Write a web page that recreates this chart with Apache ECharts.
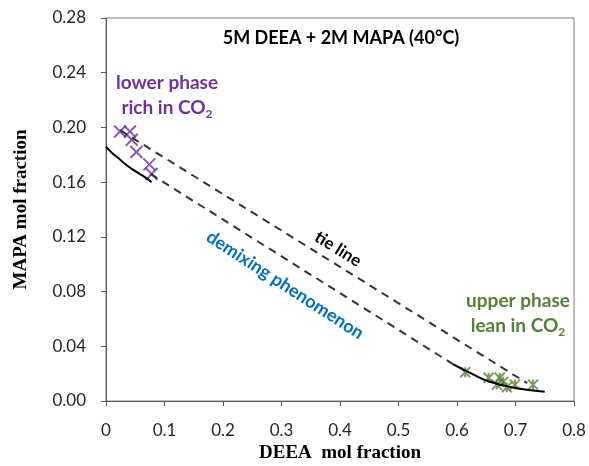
<!DOCTYPE html>
<html>
<head>
<meta charset="utf-8">
<script src="https://cdn.jsdelivr.net/npm/echarts@6/dist/echarts.min.js"></script>
<style>
  html, body { margin: 0; padding: 0; background: #fff; }
  #chart { width: 589px; height: 466px; }
</style>
</head>
<body>
<div id="chart"></div>
<script>
// --- data ---
const lowerPhase = [[0.024, 0.197], [0.041, 0.197], [0.044, 0.191], [0.052, 0.182], [0.074, 0.173], [0.078, 0.166]];
const upperPhase = [[0.614, 0.021], [0.654, 0.017], [0.668, 0.012], [0.673, 0.017], [0.679, 0.014], [0.685, 0.010], [0.699, 0.012], [0.730, 0.012]];
const leftCurve = [[0, 0.186], [0.01, 0.1815], [0.02, 0.178], [0.035, 0.1725], [0.05, 0.168], [0.065, 0.164], [0.078, 0.160]];
const rightCurve = [[0.593, 0.027], [0.625, 0.020], [0.656, 0.0141], [0.702, 0.0093], [0.75, 0.0068]];
const tieUpper = [[0.024, 0.198], [0.72, 0.013]];
const tieLower = [[0.076, 0.166], [0.593, 0.027]];
const xTicks = [0, 0.1, 0.2, 0.3, 0.4, 0.5, 0.6, 0.7, 0.8];
const yTicks = [0, 0.04, 0.08, 0.12, 0.16, 0.20, 0.24, 0.28];

const FONT = 'Lato, "Open Sans", sans-serif';
const PURPLE = '#7030a0';
const GREEN = '#548235';
const BLUE = '#0070c0';

const chart = echarts.init(document.getElementById('chart'));

// rich text for "CO2" with a lowered, smaller 2
const co2Rich = (size, color) => ({
  n: { fontSize: size, fontWeight: 'bold', fontFamily: FONT, fill: color, lineHeight: 24 },
  s: { fontSize: 12, fontWeight: 'bold', fontFamily: FONT, fill: color, verticalAlign: 'bottom', lineHeight: 24 }
});

const option = {
  animation: false,
  backgroundColor: '#fff',
  grid: { left: 106, right: 15, top: 18, bottom: 65, outerBoundsMode: 'none',
    show: true, borderColor: '#7f7f7f', borderWidth: 1 },
  xAxis: {
    type: 'value', min: xTicks[0], max: xTicks[xTicks.length - 1], interval: 0.1,
    name: 'DEEA  mol fraction', nameLocation: 'middle', nameGap: 42,
    nameTextStyle: { fontFamily: '"Liberation Serif", serif', fontWeight: 'bold', fontSize: 19, color: '#000' },
    axisLine: { lineStyle: { color: '#595959', width: 1 } },
    axisTick: { show: true, length: 5, lineStyle: { color: '#595959' } },
    axisLabel: { margin: 21, fontFamily: FONT, fontSize: 17, color: '#262626',
      formatter: v => v === 0 ? '0' : v.toFixed(1) },
    splitLine: { show: false }
  },
  yAxis: {
    type: 'value', min: yTicks[0], max: yTicks[yTicks.length - 1], interval: 0.04,
    name: 'MAPA mol fraction', nameLocation: 'middle', nameGap: 75,
    nameTextStyle: { fontFamily: '"Liberation Serif", serif', fontWeight: 'bold', fontSize: 19, color: '#000' },
    axisLine: { show: true, lineStyle: { color: '#595959', width: 1 } },
    axisTick: { show: true, length: 5, lineStyle: { color: '#595959' } },
    axisLabel: { margin: 20, fontFamily: FONT, fontSize: 17, color: '#262626',
      formatter: v => v.toFixed(2) },
    splitLine: { show: false }
  },
  series: [
    {
      type: 'line', data: tieUpper, symbol: 'none', silent: true,
      lineStyle: { color: '#333', width: 2, type: [8, 6] }
    },
    {
      type: 'line', data: tieLower, symbol: 'none', silent: true,
      lineStyle: { color: '#333', width: 2, type: [8, 6] }
    },
    {
      type: 'line', data: leftCurve, symbol: 'none', smooth: true,
      lineStyle: { color: '#000', width: 2 }
    },
    {
      type: 'line', data: rightCurve, symbol: 'none', smooth: true,
      lineStyle: { color: '#000', width: 2 }
    },
    {
      type: 'scatter', data: lowerPhase, symbol: 'path://M0,0L10,10M10,0L0,10', symbolSize: 12,
      itemStyle: { color: 'transparent', borderColor: PURPLE, borderWidth: 2 }
    },
    {
      type: 'scatter', data: upperPhase, symbol: 'path://M0,0L10,10M10,0L0,10M5,0L5,10', symbolSize: 10,
      itemStyle: { color: 'transparent', borderColor: GREEN, borderWidth: 2 }
    }
  ],
  graphic: [
    {
      type: 'text', x: 341, y: 38,
      style: { text: '5M DEEA + 2M MAPA (40°C)', align: 'center', verticalAlign: 'middle',
        font: 'bold 18px ' + FONT, fill: '#000' }
    },
    {
      type: 'text', x: 167, y: 83,
      style: { text: 'lower phase', align: 'center', verticalAlign: 'middle',
        font: 'bold 19px ' + FONT, fill: PURPLE }
    },
    {
      type: 'text', x: 167, y: 108,
      style: { text: '{n|rich in CO}{s|2}', align: 'center', verticalAlign: 'middle',
        rich: co2Rich(19, PURPLE) }
    },
    {
      type: 'text', x: 518, y: 301,
      style: { text: 'upper phase', align: 'center', verticalAlign: 'middle',
        font: 'bold 19px ' + FONT, fill: GREEN }
    },
    {
      type: 'text', x: 518, y: 326,
      style: { text: '{n|lean in CO}{s|2}', align: 'center', verticalAlign: 'middle',
        rich: co2Rich(19, GREEN) }
    },
    {
      type: 'text', x: 338, y: 249, rotation: -32 * Math.PI / 180,
      style: { text: 'tie line', align: 'center', verticalAlign: 'middle',
        font: 'bold 17px ' + FONT, fill: '#000' }
    },
    {
      type: 'text', x: 285, y: 285, rotation: -33 * Math.PI / 180,
      style: { text: 'demixing phenomenon', align: 'center', verticalAlign: 'middle',
        font: 'bold 18px ' + FONT, fill: BLUE }
    }
  ]
};

chart.setOption(option);
</script>
</body>
</html>
